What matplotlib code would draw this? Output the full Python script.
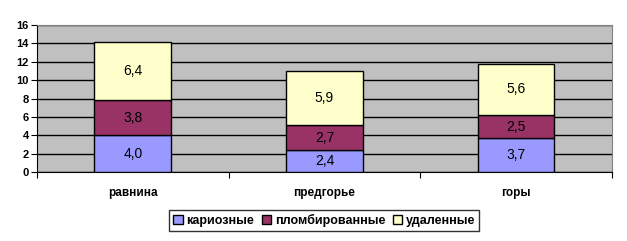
import matplotlib
matplotlib.use("Agg")
import matplotlib.pyplot as plt
import numpy as np

plt.rcParams["font.family"] = ["Liberation Sans", "DejaVu Sans"]

# данные
categories = ["равнина", "предгорье", "горы"]
series_names = ["кариозные", "пломбированные", "удаленные"]
kariozn = [4.0, 2.4, 3.7]
plomb = [3.8, 2.7, 2.5]
udal = [6.4, 5.9, 5.6]
colors = ["#9999FF", "#993366", "#FFFFCC"]

fig = plt.figure(figsize=(6.27, 2.41), dpi=100)
ax = fig.add_axes([0.059, 0.286, 0.917, 0.61])
ax.set_facecolor("#C0C0C0")

x = np.arange(len(categories))
bottom = np.zeros(len(categories))
handles = []
for vals, name, c in zip([kariozn, plomb, udal], series_names, colors):
    b = ax.bar(x, vals, 0.4, bottom=bottom, color=c, edgecolor="black",
               linewidth=1.0, label=name, zorder=3)
    handles.append(b)
    for xi, v, bt in zip(x, vals, bottom):
        ax.text(xi, bt + v / 2, f"{v:.1f}".replace(".", ","), ha="center",
                va="center", fontsize=10, zorder=4)
    bottom += np.array(vals)

ax.set_xlim(-0.5, 2.5)
ax.set_ylim(0, 16)
ax.set_yticks(range(0, 17, 2))
ax.yaxis.grid(True, color="black", linewidth=1.0, zorder=1)
ax.set_axisbelow(True)

ax.set_xticks([-0.5, 0.5, 1.5, 2.5])
ax.set_xticklabels([])
ax.set_xticks(x, minor=True)
ax.set_xticklabels(categories, minor=True, fontsize=8.5, fontweight="bold")
ax.tick_params(axis="x", which="minor", length=0, pad=11)
ax.tick_params(axis="x", which="major", length=4, direction="out", color="black")
ax.tick_params(axis="y", length=4, direction="out", labelsize=8, pad=2)
for lab in ax.get_yticklabels():
    lab.set_fontweight("bold")

for s in ["top", "right"]:
    ax.spines[s].set_color("#808080")
ax.spines["left"].set_color("black")
ax.spines["bottom"].set_color("black")

leg = fig.legend(handles=handles, loc="center", bbox_to_anchor=(0.517, 0.085),
                 ncol=3, frameon=True, fancybox=False, edgecolor="black",
                 prop={"size": 9, "weight": "bold"}, handlelength=0.75,
                 handleheight=0.75, handletextpad=0.3, columnspacing=0.6,
                 borderpad=0.35)
leg.get_frame().set_linewidth(1.0)

fig.savefig("out.png", dpi=100)
